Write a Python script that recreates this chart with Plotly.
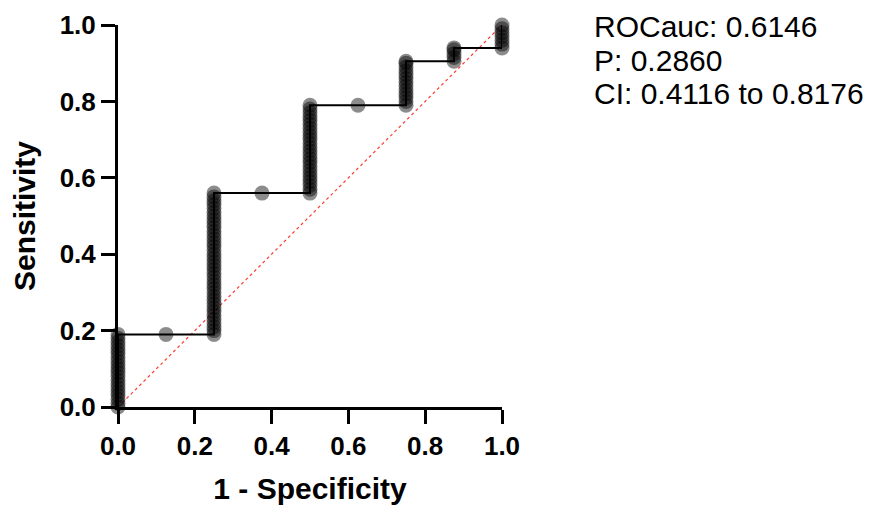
import plotly.graph_objects as go

# ROC curve corner points (1 - specificity, sensitivity)
curve_fpr = [0.0, 0.0, 0.125, 0.25, 0.25, 0.375, 0.5, 0.5, 0.625, 0.75, 0.75, 0.875, 0.875, 1.0, 1.0]
curve_sens = [0.0, 0.19, 0.19, 0.19, 0.56, 0.56, 0.56, 0.79, 0.79, 0.79, 0.905, 0.905, 0.94, 0.94, 1.0]

# Individual cutoff points (dots), grouped by 1 - specificity
sens_at_000 = [0.00, 0.01, 0.02, 0.03, 0.04, 0.05, 0.06, 0.07, 0.08, 0.09, 0.10,
               0.11, 0.12, 0.13, 0.14, 0.15, 0.16, 0.17, 0.18, 0.19]
sens_at_0125 = [0.19]
sens_at_025 = [0.19, 0.20, 0.21, 0.22, 0.23, 0.24, 0.25, 0.26, 0.27, 0.28, 0.29,
               0.30, 0.31, 0.32, 0.33, 0.34, 0.35, 0.36, 0.37, 0.38, 0.39, 0.40,
               0.41, 0.42, 0.43, 0.44, 0.45, 0.46, 0.47, 0.48, 0.49, 0.50, 0.51,
               0.52, 0.53, 0.54, 0.55, 0.56]
sens_at_0375 = [0.56]
sens_at_050 = [0.56, 0.57, 0.58, 0.59, 0.60, 0.61, 0.62, 0.63, 0.64, 0.65, 0.66,
               0.67, 0.68, 0.69, 0.70, 0.71, 0.72, 0.73, 0.74, 0.75, 0.76, 0.77,
               0.78, 0.79]
sens_at_0625 = [0.79]
sens_at_075 = [0.79, 0.80, 0.81, 0.82, 0.83, 0.84, 0.85, 0.86, 0.87, 0.88, 0.89,
               0.90, 0.905]
sens_at_0875 = [0.905, 0.915, 0.925, 0.935, 0.94]
sens_at_100 = [0.94, 0.95, 0.96, 0.97, 0.98, 0.99, 1.00]

groups = [(0.0, sens_at_000), (0.125, sens_at_0125), (0.25, sens_at_025),
          (0.375, sens_at_0375), (0.5, sens_at_050), (0.625, sens_at_0625),
          (0.75, sens_at_075), (0.875, sens_at_0875), (1.0, sens_at_100)]
pts_fpr, pts_sens = [], []
for fx, svals in groups:
    pts_fpr += [fx] * len(svals)
    pts_sens += svals

ref_line = [0.0, 1.0]
tick_vals = [0.0, 0.2, 0.4, 0.6, 0.8, 1.0]
tick_text = ["0.0", "0.2", "0.4", "0.6", "0.8", "1.0"]
stats_lines = ["ROCauc: 0.6146", "P: 0.2860", "CI: 0.4116 to 0.8176"]

fig = go.Figure()
fig.add_trace(go.Scatter(x=ref_line, y=ref_line, mode="lines",
                         line=dict(color="#ff3b30", width=1.2, dash="dot"),
                         hoverinfo="skip", cliponaxis=False))
fig.add_trace(go.Scatter(x=pts_fpr, y=pts_sens, mode="markers",
                         marker=dict(size=15, color="rgba(0,0,0,0.45)", line=dict(width=0)),
                         cliponaxis=False))
fig.add_trace(go.Scatter(x=curve_fpr, y=curve_sens, mode="lines",
                         line=dict(color="black", width=2), cliponaxis=False))

axis_common = dict(range=[0, 1], showgrid=False, zeroline=False, showline=True,
                   linecolor="black", linewidth=3, ticks="outside", ticklen=14,
                   tickwidth=3, tickcolor="black", tickvals=tick_vals, ticktext=tick_text,
                   automargin=False,
                   tickfont=dict(family="Liberation Sans", size=26, color="black", weight="bold"))

fig.update_layout(
    width=877, height=512,
    margin=dict(l=110, r=383, t=17, b=113),
    paper_bgcolor="white", plot_bgcolor="white",
    showlegend=False,
    xaxis=dict(**axis_common,
               title=dict(text="1 - Specificity", standoff=18,
                          font=dict(family="Liberation Sans", size=30, color="black", weight="bold"))),
    yaxis=dict(**axis_common,
               title=dict(text="Sensitivity", standoff=24,
                          font=dict(family="Liberation Sans", size=30, color="black", weight="bold"))),
)

ys = [1.044, 0.956, 0.868]
for txt, yy in zip(stats_lines, ys):
    fig.add_annotation(text=txt, xref="paper", yref="paper", x=1.234, y=yy,
                       xanchor="left", yanchor="top", showarrow=False,
                       font=dict(family="Liberation Sans", size=30, color="black"))

fig.write_html("out.html")
